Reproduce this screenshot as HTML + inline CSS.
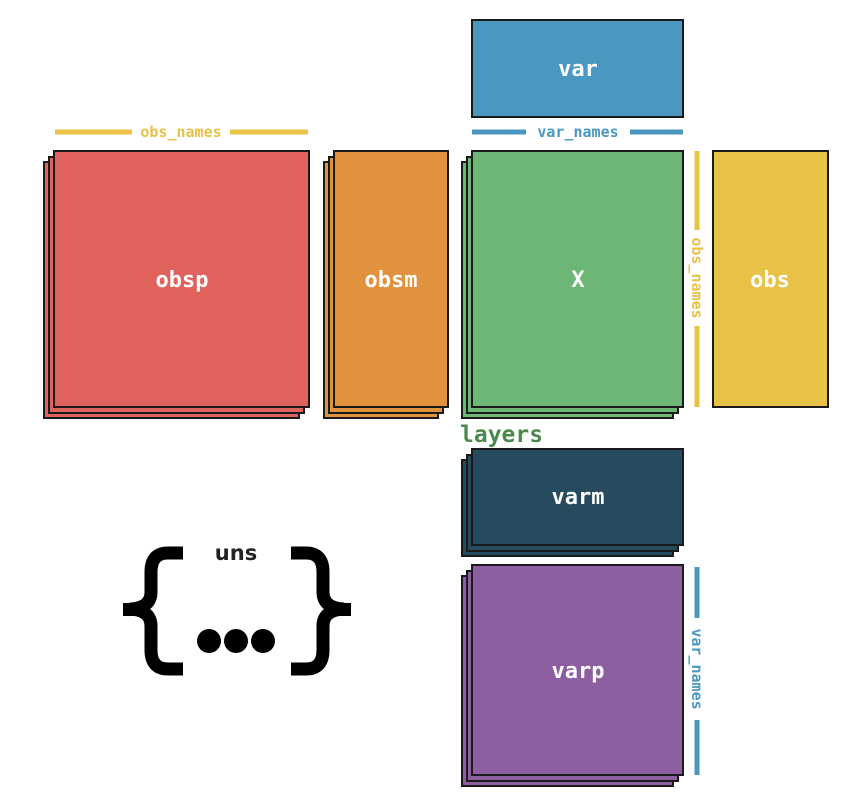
<!DOCTYPE html>
<html><head><style>
body{margin:0;background:#fff;width:852px;height:812px;position:relative;overflow:hidden;font-family:"DejaVu Sans Mono","Liberation Mono",monospace;}
</style></head><body>
<svg width="852" height="812" style="position:absolute;left:0;top:0">
<g stroke="#1a1a1a" stroke-width="2">
<rect x="44" y="162" width="255" height="256" fill="#e0625d"/>
<rect x="49" y="157" width="255" height="256" fill="#e0625d"/>
<rect x="54" y="151" width="255" height="256" fill="#e0625d"/>
<rect x="324" y="162" width="114" height="256" fill="#e0923c"/>
<rect x="329" y="157" width="114" height="256" fill="#e0923c"/>
<rect x="334" y="151" width="114" height="256" fill="#e0923c"/>
<rect x="462" y="162" width="211" height="256" fill="#6db776"/>
<rect x="467" y="157" width="211" height="256" fill="#6db776"/>
<rect x="472" y="151" width="211" height="256" fill="#6db776"/>
<rect x="713" y="151" width="115" height="256" fill="#e8c147"/>
<rect x="472" y="20" width="211" height="97" fill="#4a98c0"/>
<rect x="462" y="460" width="211" height="96" fill="#264a5e"/>
<rect x="467" y="455" width="211" height="96" fill="#264a5e"/>
<rect x="472" y="449" width="211" height="96" fill="#264a5e"/>
<rect x="462" y="576" width="211" height="210" fill="#8d5fa1"/>
<rect x="467" y="571" width="211" height="210" fill="#8d5fa1"/>
<rect x="472" y="565" width="211" height="210" fill="#8d5fa1"/>
</g>
<g stroke-width="5">
<line x1="55" y1="132" x2="132" y2="132" stroke="#e8c147"/>
<line x1="230" y1="132" x2="308" y2="132" stroke="#e8c147"/>
<line x1="472" y1="132" x2="526" y2="132" stroke="#4a98c0"/>
<line x1="630" y1="132" x2="683" y2="132" stroke="#4a98c0"/>
<line x1="697" y1="151" x2="697" y2="230" stroke="#e8c147"/>
<line x1="697" y1="326" x2="697" y2="407" stroke="#e8c147"/>
<line x1="697" y1="567" x2="697" y2="618" stroke="#4a98c0"/>
<line x1="697" y1="720" x2="697" y2="775" stroke="#4a98c0"/>
</g>
<g font-family="DejaVu Sans Mono,Liberation Mono,monospace" font-size="15" font-weight="bold" text-anchor="middle">
<text x="181" y="137" fill="#e8c147">obs_names</text>
<text x="578" y="137" fill="#4a98c0">var_names</text>
<text x="0" y="0" fill="#e8c147" transform="translate(692,278) rotate(90)">obs_names</text>
<text x="0" y="0" fill="#4a98c0" transform="translate(692,669) rotate(90)">var_names</text>
</g>
<text x="460" y="442" fill="#4a8a4f" font-family="DejaVu Sans Mono,Liberation Mono,monospace" font-size="23" font-weight="bold">layers</text>
<g fill="none" stroke="#000" stroke-width="13" stroke-linejoin="miter">
<path d="M183 553 H168 Q151 553 151 572 V592 Q151 608 130 609 Q151 610 151 626 V650 Q151 669 168 669 H183"/>
<path d="M291 553 H306 Q323 553 323 572 V592 Q323 608 344 609 Q323 610 323 626 V650 Q323 669 306 669 H291"/>
</g>
<rect x="123" y="603" width="12" height="13" fill="#000"/>
<rect x="339" y="603" width="12" height="13" fill="#000"/>
<circle cx="209" cy="641" r="12" fill="#000"/>
<circle cx="236" cy="641" r="12" fill="#000"/>
<circle cx="263" cy="641" r="12" fill="#000"/>
<text x="236" y="560" fill="#222" font-family="DejaVu Sans,Liberation Sans,sans-serif" font-size="21" font-weight="bold" text-anchor="middle">uns</text>
<g fill="#fff" font-family="DejaVu Sans Mono,Liberation Mono,monospace" font-size="22" font-weight="bold" text-anchor="middle">
<text x="182" y="287">obsp</text>
<text x="391" y="287">obsm</text>
<text x="578" y="287">X</text>
<text x="770" y="287">obs</text>
<text x="578" y="76">var</text>
<text x="578" y="504">varm</text>
<text x="578" y="678">varp</text>
</g>
</svg>
</body></html>
